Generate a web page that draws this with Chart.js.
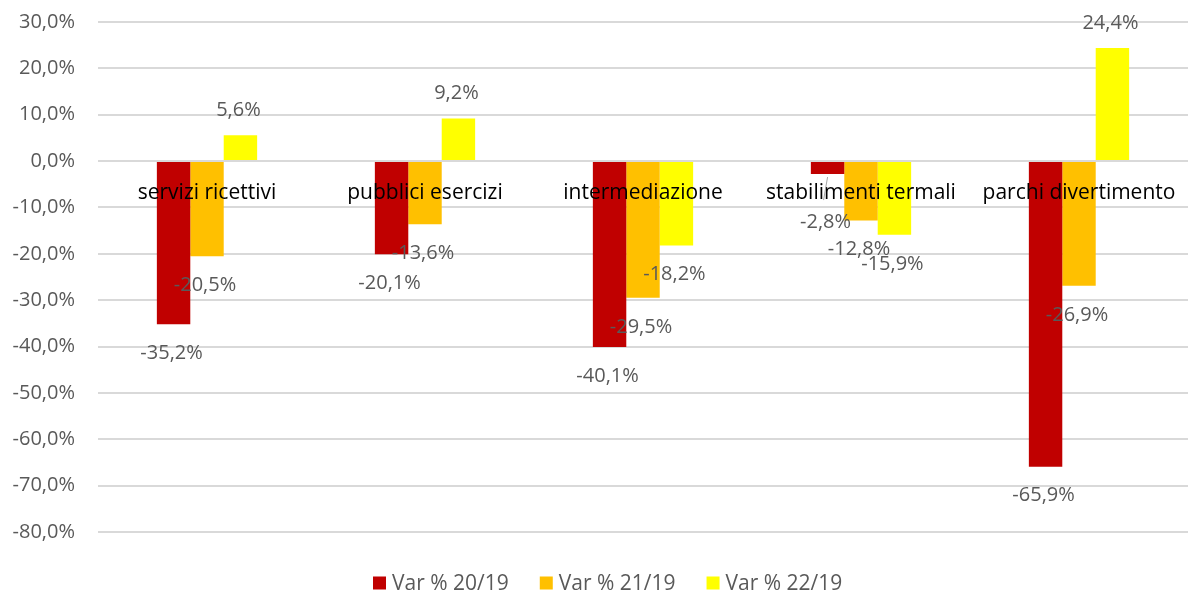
<!DOCTYPE html>
<html>
<head>
<meta charset="utf-8">
<script src="https://cdn.jsdelivr.net/npm/chart.js@4"></script>
<style>
  html, body { margin: 0; padding: 0; background: #fff; }
  #wrap { width: 1188px; height: 596px; position: relative; }
</style>
</head>
<body>
<div id="wrap"><canvas id="chart"></canvas></div>
<script>
// --- Data ---
const categories = ['servizi ricettivi', 'pubblici esercizi', 'intermediazione', 'stabilimenti termali', 'parchi divertimento'];
const seriesNames = ['Var % 20/19', 'Var % 21/19', 'Var % 22/19'];
const var2019 = [-35.2, -20.1, -40.1, -2.8, -65.9];
const var2119 = [-20.5, -13.6, -29.5, -12.8, -26.9];
const var2219 = [5.6, 9.2, -18.2, -15.9, 24.4];
const yTicks = [30, 20, 10, 0, -10, -20, -30, -40, -50, -60, -70, -80];

const colors = {
  red: '#C00000',
  orange: '#FFC000',
  yellow: '#FFFF00',
  text: '#595959',
  grid: '#D9D9D9',
};
const FONT = "'Open Sans', sans-serif";

function fmt(v) {
  return v.toFixed(1).replace('.', ',') + '%';
}

// value labels (outside end) + category names drawn on the zero line
const labelPlugin = {
  id: 'labels',
  afterDatasetsDraw(chart) {
    const ctx = chart.ctx;
    const y = chart.scales.y;
    const x = chart.scales.x;
    ctx.save();
    ctx.textAlign = 'center';
    ctx.textBaseline = 'middle';

    // category names
    ctx.font = '21px ' + FONT;
    ctx.fillStyle = '#000';
    categories.forEach((c, i) => {
      ctx.fillText(c, x.getPixelForValue(i), y.getPixelForValue(0) + 32);
    });

    ctx.font = '20px ' + FONT;
    chart.data.datasets.forEach((ds, di) => {
      const meta = chart.getDatasetMeta(di);
      meta.data.forEach((bar, i) => {
        const v = ds.data[i];
        let ly = v >= 0 ? bar.y - 25 : bar.y + 29;
        // label moved by hand in the original, with a leader line
        if (di === 0 && i === 3) {
          ly = bar.y + 48;
          ctx.strokeStyle = '#A6A6A6';
          ctx.lineWidth = 1;
          ctx.beginPath();
          ctx.moveTo(bar.x - 4, ly - 22);
          ctx.lineTo(bar.x, bar.y + 3);
          ctx.stroke();
        }
        ctx.fillStyle = colors.text;
        ctx.fillText(fmt(v), bar.x - 2, ly);
      });
    });
    ctx.restore();
  }
};

// legend drawn by hand to keep Excel spacing
const legendPlugin = {
  id: 'bottomLegend',
  afterDraw(chart) {
    const ctx = chart.ctx;
    const swatch = [colors.red, colors.orange, colors.yellow];
    ctx.save();
    ctx.font = '21px ' + FONT;
    ctx.textBaseline = 'middle';
    ctx.textAlign = 'left';
    const box = 13, gap = 6, itemGap = 31;
    let x = 373;
    const cy = 583;
    seriesNames.forEach((s, i) => {
      ctx.fillStyle = swatch[i];
      ctx.fillRect(x, cy - box / 2, box, box);
      ctx.fillStyle = colors.text;
      ctx.fillText(s, x + box + gap, cy + 1);
      x += box + gap + ctx.measureText(s).width + itemGap;
    });
    ctx.restore();
  }
};

const barOpts = { barPercentage: 1, categoryPercentage: 0.46, borderWidth: 0 };

new Chart(document.getElementById('chart'), {
  type: 'bar',
  data: {
    labels: categories,
    datasets: [
      { label: seriesNames[0], data: var2019, backgroundColor: colors.red, ...barOpts },
      { label: seriesNames[1], data: var2119, backgroundColor: colors.orange, ...barOpts },
      { label: seriesNames[2], data: var2219, backgroundColor: colors.yellow, ...barOpts },
    ]
  },
  options: {
    responsive: true,
    maintainAspectRatio: false,
    animation: false,
    layout: { padding: { top: 22, right: 0, left: 0, bottom: 64 } },
    plugins: {
      legend: { display: false },
      tooltip: { enabled: false },
    },
    scales: {
      x: {
        display: false,
      },
      y: {
        min: -80,
        max: 30,
        afterBuildTicks(axis) { axis.ticks = yTicks.map(v => ({ value: v })); },
        afterFit(axis) {
          axis.width = 98;
          axis.paddingTop = 0;
          axis.paddingBottom = 0;
        },
        grid: { color: colors.grid, lineWidth: 2, drawTicks: false },
        border: { display: false },
        ticks: {
          color: colors.text,
          font: { size: 20, family: FONT },
          padding: 23,
          callback: v => fmt(v),
        }
      }
    }
  },
  plugins: [labelPlugin, legendPlugin]
});
</script>
</body>
</html>
